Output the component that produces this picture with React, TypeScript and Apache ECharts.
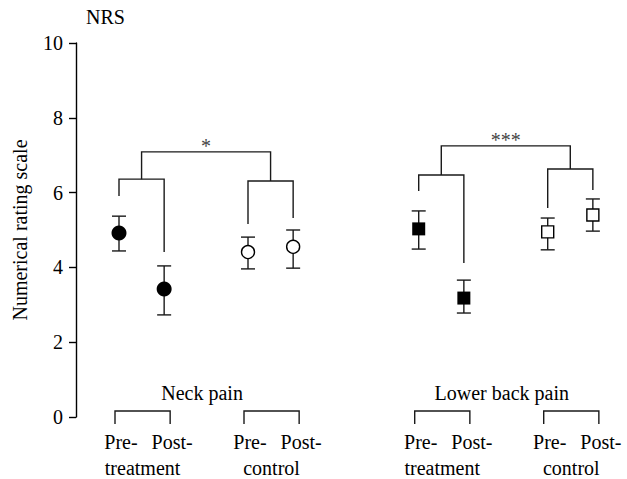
import React, { useEffect, useRef } from "react";
import * as echarts from "echarts";

// ---------- data ----------
const groups = ["Neck pain", "Lower back pain"];
const phaseLabels = ["Pre-", "Post-"];
const armLabels = ["treatment", "control"];
const yTicks = [0, 2, 4, 6, 8, 10];

// order: pre-treatment, post-treatment, pre-control, post-control
const neckMeans = [4.92, 3.42, 4.41, 4.55];
const neckUpper = [5.37, 4.04, 4.81, 5.0];
const neckLower = [4.44, 2.73, 3.96, 3.98];

const backMeans = [5.03, 3.18, 4.95, 5.4];
const backUpper = [5.51, 3.66, 5.32, 5.83];
const backLower = [4.49, 2.78, 4.47, 4.97];

// significance brackets (y values)
const sigLabels = ["*", "***"];
const sigTop = [7.09, 7.25];
const sigLeftBar = [6.36, 6.47];
const sigRightBar = [6.31, 6.63];
const sigLeftEnds = [
  [5.91, 4.41],
  [6.04, 4.12],
];
const sigRightEnds = [
  [5.16, 5.32],
  [5.59, 6.07],
];

// ---------- layout ----------
const FONT = "'Liberation Serif', 'DejaVu Serif', serif";
const INK = "#000";
const LW = 1.4;
const within = 1.05;
const pairGap = 3.0;
const groupGap = 6.97;
const xOf = (g: number, i: number) =>
  1 + g * groupGap + Math.floor(i / 2) * pairGap + (i % 2) * within;

const allMeans = [neckMeans, backMeans];
const allUpper = [neckUpper, backUpper];
const allLower = [neckLower, backLower];

function buildOption() {
  const scatterData: any[] = [];
  const errData: number[][] = [];
  for (let g = 0; g < groups.length; g++) {
    for (let i = 0; i < 4; i++) {
      const treat = i < 2;
      const circle = g === 0;
      errData.push([xOf(g, i), allLower[g][i], allUpper[g][i]]);
      scatterData.push({
        value: [xOf(g, i), allMeans[g][i]],
        symbol: circle ? "circle" : "rect",
        symbolSize: circle ? (treat ? 15 : 13) : treat ? 13 : 12,
        itemStyle: treat
          ? { color: "#000", borderWidth: 0, opacity: 1 }
          : { color: "#fff", borderColor: INK, borderWidth: LW, opacity: 1 },
      });
    }
  }

  const lineStyle = { stroke: "#1a1a1a", lineWidth: LW, fill: "none" };

  return {
    animation: false,
    grid: {
      left: 76,
      top: 43,
      bottom: 62,
      width: 550,
      containLabel: false,
      outerBoundsMode: "none",
    },
    xAxis: {
      type: "value",
      min: 0,
      max: 550 / 43,
      show: false,
    },
    yAxis: {
      type: "value",
      min: yTicks[0],
      max: yTicks[yTicks.length - 1],
      interval: 2,
      name: "Numerical rating scale",
      nameLocation: "middle",
      nameGap: 46,
      nameMoveOverlap: false,
      nameTextStyle: { fontFamily: FONT, fontSize: 20, color: INK },
      axisLine: { show: true, lineStyle: { color: INK, width: LW } },
      axisTick: { show: true, length: 7, lineStyle: { color: INK, width: LW } },
      axisLabel: { margin: 13, fontFamily: FONT, fontSize: 20, color: INK },
      splitLine: { show: false },
    },
    graphic: [
      {
        type: "text",
        left: 86,
        top: 7,
        style: { text: "NRS", font: `20px ${FONT}`, fill: INK },
      },
    ],
    series: [
      {
        type: "custom",
        name: "errors",
        clip: false,
        data: errData,
        encode: { x: 0, y: [1, 2] },
        z: 2,
        renderItem: (params: any, api: any) => {
          const x = api.value(0);
          const lo = api.coord([x, api.value(1)]);
          const hi = api.coord([x, api.value(2)]);
          const w = 7;
          return {
            type: "group",
            children: [
              { type: "line", shape: { x1: lo[0], y1: lo[1], x2: hi[0], y2: hi[1] }, style: lineStyle },
              { type: "line", shape: { x1: lo[0] - w, y1: lo[1], x2: lo[0] + w, y2: lo[1] }, style: lineStyle },
              { type: "line", shape: { x1: hi[0] - w, y1: hi[1], x2: hi[0] + w, y2: hi[1] }, style: lineStyle },
            ],
          };
        },
      },
      {
        type: "scatter",
        name: "means",
        data: scatterData,
        z: 3,
        silent: true,
      },
      {
        type: "custom",
        name: "significance",
        clip: false,
        data: groups.map((_, g) => [g, 0]),
        encode: { x: 0, y: 1 },
        z: 2,
        renderItem: (params: any, api: any) => {
          const g = api.value(0);
          const xs = [0, 1, 2, 3].map((i) => xOf(g, i));
          const c = (x: number, y: number) => api.coord([x, y]);
          const midL = (xs[0] + xs[1]) / 2;
          const midR = (xs[2] + xs[3]) / 2;
          const left = [
            c(xs[0], sigLeftEnds[g][0]),
            c(xs[0], sigLeftBar[g]),
            c(xs[1], sigLeftBar[g]),
            c(xs[1], sigLeftEnds[g][1]),
          ];
          const right = [
            c(xs[2], sigRightEnds[g][0]),
            c(xs[2], sigRightBar[g]),
            c(xs[3], sigRightBar[g]),
            c(xs[3], sigRightEnds[g][1]),
          ];
          const top = [
            c(midL, sigLeftBar[g]),
            c(midL, sigTop[g]),
            c(midR, sigTop[g]),
            c(midR, sigRightBar[g]),
          ];
          const t = c((midL + midR) / 2, sigTop[g]);
          return {
            type: "group",
            children: [
              { type: "polyline", shape: { points: left }, style: lineStyle },
              { type: "polyline", shape: { points: right }, style: lineStyle },
              { type: "polyline", shape: { points: top }, style: lineStyle },
              {
                type: "text",
                style: {
                  text: sigLabels[g],
                  x: t[0],
                  y: t[1] + 4,
                  fill: "#444",
                  font: `20px ${FONT}`,
                  align: "center",
                  verticalAlign: "bottom",
                },
              },
            ],
          };
        },
      },
      {
        type: "custom",
        name: "xlabels",
        clip: false,
        data: groups.map((_, g) => [g, 0]),
        encode: { x: 0, y: 1 },
        z: 2,
        renderItem: (params: any, api: any) => {
          const g = api.value(0);
          const xs = [0, 1, 2, 3].map((i) => api.coord([xOf(g, i), 0])[0]);
          const y0 = api.coord([0, 0])[1];
          const children: any[] = [];
          const txt = (text: string, x: number, y: number) => ({
            type: "text",
            style: {
              text,
              x,
              y,
              fill: INK,
              font: `20px ${FONT}`,
              align: "center",
              verticalAlign: "middle",
            },
          });
          children.push(txt(groups[g], (xs[0] + xs[3]) / 2 - 4, y0 - 24));
          for (let a = 0; a < 2; a++) {
            const l = xs[a * 2] - 4;
            const r = xs[a * 2 + 1] + 6;
            children.push({
              type: "polyline",
              shape: {
                points: [
                  [l, y0 + 7],
                  [l, y0 - 6],
                  [r, y0 - 6],
                  [r, y0 + 7],
                ],
              },
              style: lineStyle,
            });
            children.push(txt(phaseLabels[0], l + 6, y0 + 25));
            children.push(txt(phaseLabels[1], r + 2, y0 + 25));
            children.push(txt(armLabels[a], (l + r) / 2, y0 + 51));
          }
          return { type: "group", children };
        },
      },
    ],
  };
}

export default function App() {
  const ref = useRef<HTMLDivElement>(null);
  useEffect(() => {
    const chart = echarts.init(ref.current!, null, { renderer: "svg" });
    chart.setOption(buildOption() as any);
    return () => chart.dispose();
  }, []);
  return (
    <div
      ref={ref}
      style={{ position: "fixed", left: 0, top: 0, width: 627, height: 479, background: "#fff" }}
    />
  );
}
